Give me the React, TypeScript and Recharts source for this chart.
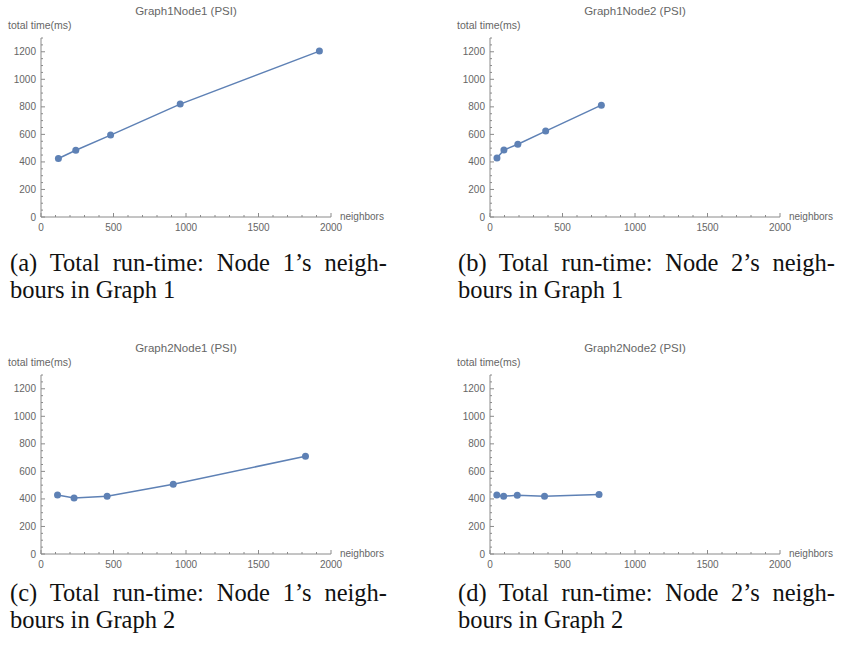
import { Line, LineChart, XAxis, YAxis } from "recharts";

// neighbors (x) and total time in ms (y) for each run
const g1n1X = [120, 240, 480, 960, 1920];
const g1n1Y = [425, 485, 595, 820, 1205];
const g1n2X = [48, 96, 192, 384, 768];
const g1n2Y = [428, 487, 528, 624, 812];
const g2n1X = [114, 228, 456, 912, 1824];
const g2n1Y = [428, 407, 420, 507, 710];
const g2n2X = [47, 94, 188, 376, 752];
const g2n2Y = [428, 420, 426, 420, 433];

const xTicks = Array.from({ length: 21 }, (_, i) => i * 100);
const yTicks = Array.from({ length: 27 }, (_, i) => i * 50);

const LINE = "#5E81B5";
const AXIS = "#8a8a8a";
const TEXT = "#666";
const SANS = "'Liberation Sans', Arial, sans-serif";

const XTick = (props: any) => {
  const { x, y, payload } = props;
  const v = payload.value;
  const major = v % 500 === 0;
  return (
    <g>
      <line x1={x} x2={x} y1={y} y2={y - (major ? 4 : 2)} stroke={AXIS} />
      {major && (
        <text x={x} y={y + 14} textAnchor="middle" fontSize={10} fill={TEXT} fontFamily={SANS}>
          {v}
        </text>
      )}
    </g>
  );
};

const YTick = (props: any) => {
  const { x, y, payload } = props;
  const v = payload.value;
  const major = v % 200 === 0;
  return (
    <g>
      <line x1={x} x2={x + (major ? 4 : 2)} y1={y} y2={y} stroke={AXIS} />
      {major && (
        <text x={x - 5} y={y + 3.5} textAnchor="end" fontSize={10} fill={TEXT} fontFamily={SANS}>
          {v}
        </text>
      )}
    </g>
  );
};

const abs = (left: number, top: number, extra: any = {}) => ({
  position: "absolute" as const,
  left,
  top,
  fontFamily: SANS,
  color: TEXT,
  whiteSpace: "nowrap" as const,
  lineHeight: 1,
  ...extra,
});

function Panel({ title, xs, ys, left, top }: { title: string; xs: number[]; ys: number[]; left: number; top: number }) {
  const data = xs.map((x, i) => ({ x, y: ys[i] }));
  return (
    <div style={{ position: "absolute", left, top, width: 400, height: 240 }}>
      <LineChart width={400} height={240} data={data} margin={{ top: 38, right: 69, bottom: 0, left: 0 }}>
        <XAxis
          type="number"
          dataKey="x"
          domain={[0, 2000]}
          ticks={xTicks}
          interval={0}
          height={23}
          tickSize={0}
          tickMargin={0}
          tickLine={false}
          tick={<XTick />}
          stroke={AXIS}
        />
        <YAxis
          type="number"
          domain={[0, 1300]}
          ticks={yTicks}
          interval={0}
          width={41}
          tickSize={0}
          tickMargin={0}
          tickLine={false}
          tick={<YTick />}
          stroke={AXIS}
        />
        <Line
          type="linear"
          dataKey="y"
          stroke={LINE}
          strokeWidth={1.5}
          dot={{ r: 3.5, fill: LINE, stroke: LINE, strokeWidth: 0 }}
          isAnimationActive={false}
        />
      </LineChart>
      <div style={abs(41, 6, { width: 290, textAlign: "center", fontSize: 11.5 })}>{title}</div>
      <div style={abs(8, 20, { fontSize: 10.5 })}>total time(ms)</div>
      <div style={abs(340, 212, { fontSize: 10 })}>neighbors</div>
    </div>
  );
}

function Caption({ first, second, left, top }: { first: string; second: string; left: number; top: number }) {
  const common = {
    fontFamily: "'Liberation Serif', 'Times New Roman', serif",
    fontSize: 24.5,
    lineHeight: "27px",
    color: "#111",
    whiteSpace: "nowrap" as const,
  };
  return (
    <div style={{ position: "absolute", left, top }}>
      <div style={{ ...common, width: 377, textAlign: "justify", textAlignLast: "justify", whiteSpace: "normal" }}>{first}</div>
      <div style={common}>{second}</div>
    </div>
  );
}

export default function App() {
  return (
    <div style={{ position: "absolute", left: 0, top: 0, width: 848, height: 646, background: "#fff", overflow: "hidden" }}>
      <Panel title="Graph1Node1 (PSI)" xs={g1n1X} ys={g1n1Y} left={0} top={0} />
      <Panel title="Graph1Node2 (PSI)" xs={g1n2X} ys={g1n2Y} left={449} top={0} />
      <Panel title="Graph2Node1 (PSI)" xs={g2n1X} ys={g2n1Y} left={0} top={337} />
      <Panel title="Graph2Node2 (PSI)" xs={g2n2X} ys={g2n2Y} left={449} top={337} />
      <Caption first="(a)  Total run-time: Node 1’s neigh-" second="bours in Graph 1" left={10} top={249} />
      <Caption first="(b)  Total run-time: Node 2’s neigh-" second="bours in Graph 1" left={458} top={249} />
      <Caption first="(c)  Total run-time: Node 1’s neigh-" second="bours in Graph 2" left={10} top={579} />
      <Caption first="(d)  Total run-time: Node 2’s neigh-" second="bours in Graph 2" left={458} top={579} />
    </div>
  );
}
